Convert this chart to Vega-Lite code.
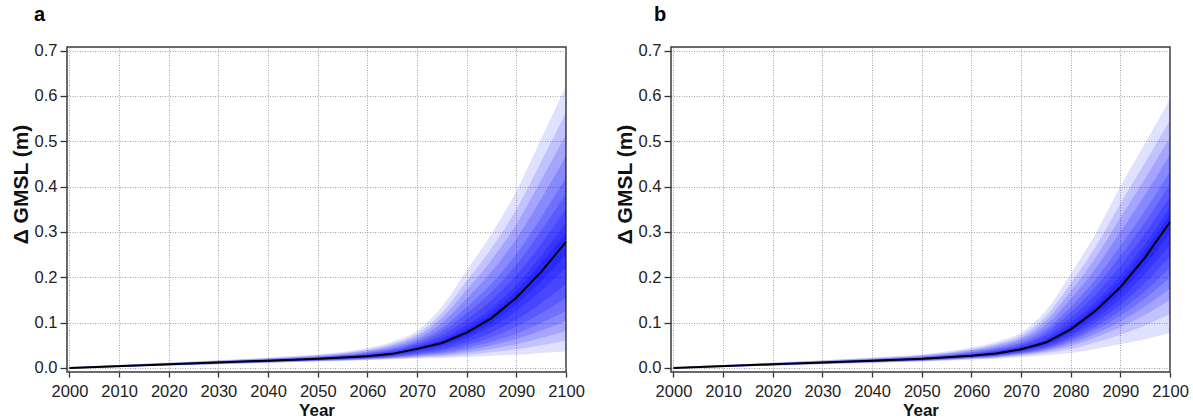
{
  "$schema": "https://vega.github.io/schema/vega-lite/v6.json",
  "background": "white",
  "padding": {"left": 9, "top": 3, "right": 5, "bottom": 0},
  "config": {
    "font": "Liberation Sans",
    "view": {"stroke": "#3a3a3a", "strokeWidth": 1.5},
    "axis": {
      "domain": false,
      "grid": true,
      "gridColor": "#8c8c8c",
      "gridDash": [1, 1.5],
      "gridWidth": 0.8,
      "labelFont": "Liberation Sans",
      "labelFontSize": 16.5,
      "labelColor": "#222222",
      "tickColor": "#333333",
      "tickWidth": 1.3,
      "titleFont": "Liberation Sans",
      "titleFontSize": 17,
      "titleFontWeight": "bold",
      "titleColor": "#111111",
      "labelFlush": false,
      "labelOverlap": false,
      "zindex": 1
    },
    "axisX": {"tickSize": 5, "labelPadding": 6, "titlePadding": 3},
    "axisY": {"tickSize": 7, "labelPadding": 3, "titlePadding": 3, "titleFontSize": 21, "titleY": 137}
  },
  "datasets": {
    "fan": [
      {"p":"a","year":2000,"band":1,"lo":-0.002,"hi":0.002},{"p":"a","year":2000,"band":2,"lo":-0.0018,"hi":0.0017},{"p":"a","year":2000,"band":3,"lo":-0.0016,"hi":0.0014},{"p":"a","year":2000,"band":4,"lo":-0.0014,"hi":0.0011},{"p":"a","year":2000,"band":5,"lo":-0.0013,"hi":0.0008},{"p":"a","year":2000,"band":6,"lo":-0.001,"hi":0.0006},{"p":"a","year":2000,"band":7,"lo":-0.0008,"hi":0.0004},{"p":"a","year":2000,"band":8,"lo":-0.0005,"hi":0.0002},{"p":"a","year":2000,"band":9,"lo":-0.0002,"hi":0.0001},
      {"p":"a","year":2020,"band":1,"lo":0.005,"hi":0.012},{"p":"a","year":2020,"band":2,"lo":0.0053,"hi":0.0113},{"p":"a","year":2020,"band":3,"lo":0.0055,"hi":0.0108},{"p":"a","year":2020,"band":4,"lo":0.0058,"hi":0.0102},{"p":"a","year":2020,"band":5,"lo":0.0061,"hi":0.0096},{"p":"a","year":2020,"band":6,"lo":0.0065,"hi":0.0092},{"p":"a","year":2020,"band":7,"lo":0.0068,"hi":0.0088},{"p":"a","year":2020,"band":8,"lo":0.0073,"hi":0.0085},{"p":"a","year":2020,"band":9,"lo":0.0077,"hi":0.0083},
      {"p":"a","year":2040,"band":1,"lo":0.011,"hi":0.023},{"p":"a","year":2040,"band":2,"lo":0.0115,"hi":0.0218},{"p":"a","year":2040,"band":3,"lo":0.0119,"hi":0.0208},{"p":"a","year":2040,"band":4,"lo":0.0124,"hi":0.0199},{"p":"a","year":2040,"band":5,"lo":0.0128,"hi":0.0189},{"p":"a","year":2040,"band":6,"lo":0.0135,"hi":0.0182},{"p":"a","year":2040,"band":7,"lo":0.0141,"hi":0.0175},{"p":"a","year":2040,"band":8,"lo":0.0148,"hi":0.0168},{"p":"a","year":2040,"band":9,"lo":0.0154,"hi":0.0165},
      {"p":"a","year":2050,"band":1,"lo":0.014,"hi":0.030},{"p":"a","year":2050,"band":2,"lo":0.0146,"hi":0.0283},{"p":"a","year":2050,"band":3,"lo":0.0151,"hi":0.0269},{"p":"a","year":2050,"band":4,"lo":0.0157,"hi":0.0255},{"p":"a","year":2050,"band":5,"lo":0.0162,"hi":0.0241},{"p":"a","year":2050,"band":6,"lo":0.0169,"hi":0.0231},{"p":"a","year":2050,"band":7,"lo":0.0177,"hi":0.0221},{"p":"a","year":2050,"band":8,"lo":0.0186,"hi":0.0212},{"p":"a","year":2050,"band":9,"lo":0.0193,"hi":0.0207},
      {"p":"a","year":2060,"band":1,"lo":0.017,"hi":0.044},{"p":"a","year":2060,"band":2,"lo":0.0179,"hi":0.0409},{"p":"a","year":2060,"band":3,"lo":0.0187,"hi":0.0384},{"p":"a","year":2060,"band":4,"lo":0.0195,"hi":0.0359},{"p":"a","year":2060,"band":5,"lo":0.0203,"hi":0.0334},{"p":"a","year":2060,"band":6,"lo":0.0214,"hi":0.0316},{"p":"a","year":2060,"band":7,"lo":0.0225,"hi":0.0298},{"p":"a","year":2060,"band":8,"lo":0.0239,"hi":0.0282},{"p":"a","year":2060,"band":9,"lo":0.025,"hi":0.0272},
      {"p":"a","year":2065,"band":1,"lo":0.019,"hi":0.058},{"p":"a","year":2065,"band":2,"lo":0.0201,"hi":0.0534},{"p":"a","year":2065,"band":3,"lo":0.0212,"hi":0.0496},{"p":"a","year":2065,"band":4,"lo":0.0223,"hi":0.0459},{"p":"a","year":2065,"band":5,"lo":0.0234,"hi":0.0421},{"p":"a","year":2065,"band":6,"lo":0.0249,"hi":0.0394},{"p":"a","year":2065,"band":7,"lo":0.0264,"hi":0.0367},{"p":"a","year":2065,"band":8,"lo":0.0282,"hi":0.0342},{"p":"a","year":2065,"band":9,"lo":0.0296,"hi":0.0328},
      {"p":"a","year":2070,"band":1,"lo":0.021,"hi":0.082},{"p":"a","year":2070,"band":2,"lo":0.023,"hi":0.0752},{"p":"a","year":2070,"band":3,"lo":0.0248,"hi":0.0696},{"p":"a","year":2070,"band":4,"lo":0.0268,"hi":0.064},{"p":"a","year":2070,"band":5,"lo":0.0288,"hi":0.0584},{"p":"a","year":2070,"band":6,"lo":0.0313,"hi":0.0544},{"p":"a","year":2070,"band":7,"lo":0.0339,"hi":0.0504},{"p":"a","year":2070,"band":8,"lo":0.0371,"hi":0.0468},{"p":"a","year":2070,"band":9,"lo":0.0396,"hi":0.0446},
      {"p":"a","year":2075,"band":1,"lo":0.022,"hi":0.135},{"p":"a","year":2075,"band":2,"lo":0.0251,"hi":0.1214},{"p":"a","year":2075,"band":3,"lo":0.028,"hi":0.1102},{"p":"a","year":2075,"band":4,"lo":0.0312,"hi":0.099},{"p":"a","year":2075,"band":5,"lo":0.0342,"hi":0.0878},{"p":"a","year":2075,"band":6,"lo":0.0382,"hi":0.0798},{"p":"a","year":2075,"band":7,"lo":0.0423,"hi":0.0718},{"p":"a","year":2075,"band":8,"lo":0.0473,"hi":0.0646},{"p":"a","year":2075,"band":9,"lo":0.0512,"hi":0.0602},
      {"p":"a","year":2080,"band":1,"lo":0.024,"hi":0.215},{"p":"a","year":2080,"band":2,"lo":0.0291,"hi":0.1917},{"p":"a","year":2080,"band":3,"lo":0.0339,"hi":0.1725},{"p":"a","year":2080,"band":4,"lo":0.039,"hi":0.1534},{"p":"a","year":2080,"band":5,"lo":0.0439,"hi":0.1342},{"p":"a","year":2080,"band":6,"lo":0.0505,"hi":0.1205},{"p":"a","year":2080,"band":7,"lo":0.0572,"hi":0.1068},{"p":"a","year":2080,"band":8,"lo":0.0655,"hi":0.0944},{"p":"a","year":2080,"band":9,"lo":0.0717,"hi":0.0869},
      {"p":"a","year":2085,"band":1,"lo":0.027,"hi":0.296},{"p":"a","year":2085,"band":2,"lo":0.0349,"hi":0.2644},{"p":"a","year":2085,"band":3,"lo":0.0422,"hi":0.2383},{"p":"a","year":2085,"band":4,"lo":0.0501,"hi":0.2123},{"p":"a","year":2085,"band":5,"lo":0.0576,"hi":0.1863},{"p":"a","year":2085,"band":6,"lo":0.0677,"hi":0.1677},{"p":"a","year":2085,"band":7,"lo":0.078,"hi":0.1491},{"p":"a","year":2085,"band":8,"lo":0.0907,"hi":0.1323},{"p":"a","year":2085,"band":9,"lo":0.1004,"hi":0.1221},
      {"p":"a","year":2090,"band":1,"lo":0.029,"hi":0.39},{"p":"a","year":2090,"band":2,"lo":0.041,"hi":0.3501},{"p":"a","year":2090,"band":3,"lo":0.0521,"hi":0.3172},{"p":"a","year":2090,"band":4,"lo":0.064,"hi":0.2843},{"p":"a","year":2090,"band":5,"lo":0.0755,"hi":0.2514},{"p":"a","year":2090,"band":6,"lo":0.0907,"hi":0.2279},{"p":"a","year":2090,"band":7,"lo":0.1064,"hi":0.2044},{"p":"a","year":2090,"band":8,"lo":0.1258,"hi":0.1832},{"p":"a","year":2090,"band":9,"lo":0.1404,"hi":0.1703},
      {"p":"a","year":2095,"band":1,"lo":0.033,"hi":0.505},{"p":"a","year":2095,"band":2,"lo":0.05,"hi":0.4552},{"p":"a","year":2095,"band":3,"lo":0.0658,"hi":0.4142},{"p":"a","year":2095,"band":4,"lo":0.0828,"hi":0.3732},{"p":"a","year":2095,"band":5,"lo":0.0991,"hi":0.3321},{"p":"a","year":2095,"band":6,"lo":0.1207,"hi":0.3028},{"p":"a","year":2095,"band":7,"lo":0.1429,"hi":0.2735},{"p":"a","year":2095,"band":8,"lo":0.1705,"hi":0.2472},{"p":"a","year":2095,"band":9,"lo":0.1912,"hi":0.231},
      {"p":"a","year":2100,"band":1,"lo":0.037,"hi":0.622},{"p":"a","year":2100,"band":2,"lo":0.06,"hi":0.563},{"p":"a","year":2100,"band":3,"lo":0.081,"hi":0.515},{"p":"a","year":2100,"band":4,"lo":0.104,"hi":0.467},{"p":"a","year":2100,"band":5,"lo":0.126,"hi":0.42},{"p":"a","year":2100,"band":6,"lo":0.155,"hi":0.385},{"p":"a","year":2100,"band":7,"lo":0.185,"hi":0.35},{"p":"a","year":2100,"band":8,"lo":0.222,"hi":0.32},{"p":"a","year":2100,"band":9,"lo":0.25,"hi":0.30},
      {"p":"b","year":2000,"band":1,"lo":-0.002,"hi":0.002},{"p":"b","year":2000,"band":2,"lo":-0.0018,"hi":0.0017},{"p":"b","year":2000,"band":3,"lo":-0.0016,"hi":0.0014},{"p":"b","year":2000,"band":4,"lo":-0.0014,"hi":0.0011},{"p":"b","year":2000,"band":5,"lo":-0.0013,"hi":0.0008},{"p":"b","year":2000,"band":6,"lo":-0.001,"hi":0.0006},{"p":"b","year":2000,"band":7,"lo":-0.0008,"hi":0.0004},{"p":"b","year":2000,"band":8,"lo":-0.0005,"hi":0.0002},{"p":"b","year":2000,"band":9,"lo":-0.0002,"hi":0.0001},
      {"p":"b","year":2020,"band":1,"lo":0.005,"hi":0.012},{"p":"b","year":2020,"band":2,"lo":0.0053,"hi":0.0113},{"p":"b","year":2020,"band":3,"lo":0.0055,"hi":0.0108},{"p":"b","year":2020,"band":4,"lo":0.0058,"hi":0.0102},{"p":"b","year":2020,"band":5,"lo":0.0061,"hi":0.0096},{"p":"b","year":2020,"band":6,"lo":0.0065,"hi":0.0092},{"p":"b","year":2020,"band":7,"lo":0.0068,"hi":0.0088},{"p":"b","year":2020,"band":8,"lo":0.0073,"hi":0.0085},{"p":"b","year":2020,"band":9,"lo":0.0077,"hi":0.0083},
      {"p":"b","year":2040,"band":1,"lo":0.011,"hi":0.023},{"p":"b","year":2040,"band":2,"lo":0.0115,"hi":0.0218},{"p":"b","year":2040,"band":3,"lo":0.0119,"hi":0.0208},{"p":"b","year":2040,"band":4,"lo":0.0124,"hi":0.0199},{"p":"b","year":2040,"band":5,"lo":0.0128,"hi":0.0189},{"p":"b","year":2040,"band":6,"lo":0.0135,"hi":0.0182},{"p":"b","year":2040,"band":7,"lo":0.0141,"hi":0.0175},{"p":"b","year":2040,"band":8,"lo":0.0148,"hi":0.0168},{"p":"b","year":2040,"band":9,"lo":0.0154,"hi":0.0165},
      {"p":"b","year":2050,"band":1,"lo":0.014,"hi":0.030},{"p":"b","year":2050,"band":2,"lo":0.0146,"hi":0.0283},{"p":"b","year":2050,"band":3,"lo":0.0151,"hi":0.0269},{"p":"b","year":2050,"band":4,"lo":0.0157,"hi":0.0255},{"p":"b","year":2050,"band":5,"lo":0.0162,"hi":0.0241},{"p":"b","year":2050,"band":6,"lo":0.0169,"hi":0.0231},{"p":"b","year":2050,"band":7,"lo":0.0177,"hi":0.0221},{"p":"b","year":2050,"band":8,"lo":0.0186,"hi":0.0212},{"p":"b","year":2050,"band":9,"lo":0.0193,"hi":0.0207},
      {"p":"b","year":2060,"band":1,"lo":0.018,"hi":0.045},{"p":"b","year":2060,"band":2,"lo":0.0195,"hi":0.0419},{"p":"b","year":2060,"band":3,"lo":0.0207,"hi":0.0394},{"p":"b","year":2060,"band":4,"lo":0.0216,"hi":0.0369},{"p":"b","year":2060,"band":5,"lo":0.0225,"hi":0.0344},{"p":"b","year":2060,"band":6,"lo":0.0233,"hi":0.0326},{"p":"b","year":2060,"band":7,"lo":0.0242,"hi":0.0308},{"p":"b","year":2060,"band":8,"lo":0.0252,"hi":0.0292},{"p":"b","year":2060,"band":9,"lo":0.0261,"hi":0.0282},
      {"p":"b","year":2065,"band":1,"lo":0.020,"hi":0.058},{"p":"b","year":2065,"band":2,"lo":0.022,"hi":0.0536},{"p":"b","year":2065,"band":3,"lo":0.0236,"hi":0.0499},{"p":"b","year":2065,"band":4,"lo":0.0248,"hi":0.0463},{"p":"b","year":2065,"band":5,"lo":0.026,"hi":0.0427},{"p":"b","year":2065,"band":6,"lo":0.0271,"hi":0.0401},{"p":"b","year":2065,"band":7,"lo":0.0283,"hi":0.0375},{"p":"b","year":2065,"band":8,"lo":0.0296,"hi":0.0351},{"p":"b","year":2065,"band":9,"lo":0.0308,"hi":0.0337},
      {"p":"b","year":2070,"band":1,"lo":0.024,"hi":0.078},{"p":"b","year":2070,"band":2,"lo":0.0269,"hi":0.0717},{"p":"b","year":2070,"band":3,"lo":0.0291,"hi":0.0665},{"p":"b","year":2070,"band":4,"lo":0.0308,"hi":0.0614},{"p":"b","year":2070,"band":5,"lo":0.0325,"hi":0.0562},{"p":"b","year":2070,"band":6,"lo":0.034,"hi":0.0525},{"p":"b","year":2070,"band":7,"lo":0.0357,"hi":0.0488},{"p":"b","year":2070,"band":8,"lo":0.0376,"hi":0.0454},{"p":"b","year":2070,"band":9,"lo":0.0393,"hi":0.0434},
      {"p":"b","year":2075,"band":1,"lo":0.028,"hi":0.126},{"p":"b","year":2075,"band":2,"lo":0.0328,"hi":0.1141},{"p":"b","year":2075,"band":3,"lo":0.0364,"hi":0.1043},{"p":"b","year":2075,"band":4,"lo":0.0392,"hi":0.0945},{"p":"b","year":2075,"band":5,"lo":0.042,"hi":0.0847},{"p":"b","year":2075,"band":6,"lo":0.0445,"hi":0.0777},{"p":"b","year":2075,"band":7,"lo":0.0473,"hi":0.0707},{"p":"b","year":2075,"band":8,"lo":0.0504,"hi":0.0644},{"p":"b","year":2075,"band":9,"lo":0.0532,"hi":0.0606},
      {"p":"b","year":2080,"band":1,"lo":0.033,"hi":0.207},{"p":"b","year":2080,"band":2,"lo":0.0418,"hi":0.1863},{"p":"b","year":2080,"band":3,"lo":0.0486,"hi":0.1692},{"p":"b","year":2080,"band":4,"lo":0.0538,"hi":0.1521},{"p":"b","year":2080,"band":5,"lo":0.059,"hi":0.135},{"p":"b","year":2080,"band":6,"lo":0.0637,"hi":0.1228},{"p":"b","year":2080,"band":7,"lo":0.0689,"hi":0.1106},{"p":"b","year":2080,"band":8,"lo":0.0746,"hi":0.0996},{"p":"b","year":2080,"band":9,"lo":0.0798,"hi":0.0929},
      {"p":"b","year":2085,"band":1,"lo":0.042,"hi":0.296},{"p":"b","year":2085,"band":2,"lo":0.0563,"hi":0.2671},{"p":"b","year":2085,"band":3,"lo":0.0672,"hi":0.2433},{"p":"b","year":2085,"band":4,"lo":0.0756,"hi":0.2195},{"p":"b","year":2085,"band":5,"lo":0.084,"hi":0.1957},{"p":"b","year":2085,"band":6,"lo":0.0916,"hi":0.1787},{"p":"b","year":2085,"band":7,"lo":0.1,"hi":0.1617},{"p":"b","year":2085,"band":8,"lo":0.1092,"hi":0.1464},{"p":"b","year":2085,"band":9,"lo":0.1176,"hi":0.1371},
      {"p":"b","year":2090,"band":1,"lo":0.052,"hi":0.40},{"p":"b","year":2090,"band":2,"lo":0.0734,"hi":0.3623},{"p":"b","year":2090,"band":3,"lo":0.0898,"hi":0.3312},{"p":"b","year":2090,"band":4,"lo":0.1024,"hi":0.3001},{"p":"b","year":2090,"band":5,"lo":0.115,"hi":0.269},{"p":"b","year":2090,"band":6,"lo":0.1263,"hi":0.2468},{"p":"b","year":2090,"band":7,"lo":0.1389,"hi":0.2246},{"p":"b","year":2090,"band":8,"lo":0.1528,"hi":0.2046},{"p":"b","year":2090,"band":9,"lo":0.1654,"hi":0.1924},
      {"p":"b","year":2095,"band":1,"lo":0.063,"hi":0.496},{"p":"b","year":2095,"band":2,"lo":0.0938,"hi":0.4532},{"p":"b","year":2095,"band":3,"lo":0.1173,"hi":0.4179},{"p":"b","year":2095,"band":4,"lo":0.1354,"hi":0.3826},{"p":"b","year":2095,"band":5,"lo":0.1535,"hi":0.3473},{"p":"b","year":2095,"band":6,"lo":0.1698,"hi":0.3221},{"p":"b","year":2095,"band":7,"lo":0.1879,"hi":0.2969},{"p":"b","year":2095,"band":8,"lo":0.2078,"hi":0.2742},{"p":"b","year":2095,"band":9,"lo":0.2259,"hi":0.2604},
      {"p":"b","year":2100,"band":1,"lo":0.077,"hi":0.593},{"p":"b","year":2100,"band":2,"lo":0.1187,"hi":0.5469},{"p":"b","year":2100,"band":3,"lo":0.1505,"hi":0.509},{"p":"b","year":2100,"band":4,"lo":0.175,"hi":0.471},{"p":"b","year":2100,"band":5,"lo":0.1995,"hi":0.4331},{"p":"b","year":2100,"band":6,"lo":0.2215,"hi":0.406},{"p":"b","year":2100,"band":7,"lo":0.246,"hi":0.3789},{"p":"b","year":2100,"band":8,"lo":0.273,"hi":0.3545},{"p":"b","year":2100,"band":9,"lo":0.2975,"hi":0.3396}
    ],
    "med": [
      {"p":"a","year":2000,"m":0.0},{"p":"a","year":2020,"m":0.008},{"p":"a","year":2040,"m":0.016},{"p":"a","year":2050,"m":0.020},{"p":"a","year":2060,"m":0.026},{"p":"a","year":2065,"m":0.031},{"p":"a","year":2070,"m":0.042},{"p":"a","year":2075,"m":0.055},{"p":"a","year":2080,"m":0.078},{"p":"a","year":2085,"m":0.110},{"p":"a","year":2090,"m":0.155},{"p":"a","year":2095,"m":0.212},{"p":"a","year":2100,"m":0.278},
      {"p":"b","year":2000,"m":0.0},{"p":"b","year":2020,"m":0.008},{"p":"b","year":2040,"m":0.016},{"p":"b","year":2050,"m":0.020},{"p":"b","year":2060,"m":0.027},{"p":"b","year":2065,"m":0.032},{"p":"b","year":2070,"m":0.041},{"p":"b","year":2075,"m":0.056},{"p":"b","year":2080,"m":0.085},{"p":"b","year":2085,"m":0.126},{"p":"b","year":2090,"m":0.178},{"p":"b","year":2095,"m":0.244},{"p":"b","year":2100,"m":0.322}
    ]
  },
  "bounds": "flush",
  "spacing": 105,
  "hconcat": [
    {
      "width": 499,
      "height": 325,
      "title": {"text": "a", "anchor": "start", "frame": "group", "dx": -33, "fontSize": 20, "fontWeight": "bold", "font": "Liberation Sans", "color": "#000000", "offset": 18},
      "layer": [
        {
          "data": {"name": "fan"},
          "transform": [{"filter": {"field": "p", "equal": "a"}}],
          "mark": {"type": "area", "color": "#0000ff", "interpolate": "monotone"},
          "encoding": {
            "x": {"field": "year", "type": "quantitative", "title": "Year", "scale": {"domain": [1999.5, 2100], "nice": false, "zero": false}, "axis": {"values": [2000, 2010, 2020, 2030, 2040, 2050, 2060, 2070, 2080, 2090, 2100], "format": "d"}},
            "y": {"field": "hi", "type": "quantitative", "title": "Δ GMSL (m)", "scale": {"domain": [-0.009, 0.708], "nice": false, "zero": false}, "axis": {"values": [0, 0.1, 0.2, 0.3, 0.4, 0.5, 0.6, 0.7], "format": ".1f"}},
            "y2": {"field": "lo"},
            "detail": {"field": "band", "type": "nominal"},
            "opacity": {"field": "band", "type": "ordinal", "scale": {"domain": [1, 2, 3, 4, 5, 6, 7, 8, 9], "range": [0.12, 0.24, 0.28, 0.28, 0.28, 0.28, 0.28, 0.28, 0.28]}, "legend": null}
          }
        },
        {
          "data": {"name": "med"},
          "transform": [{"filter": {"field": "p", "equal": "a"}}],
          "mark": {"type": "line", "color": "#000000", "strokeWidth": 2},
          "encoding": {
            "x": {"field": "year", "type": "quantitative", "title": "Year"},
            "y": {"field": "m", "type": "quantitative", "title": "Δ GMSL (m)"}
          }
        }
      ]
    },
    {
      "width": 499,
      "height": 325,
      "title": {"text": "b", "anchor": "start", "frame": "group", "dx": -17, "fontSize": 20, "fontWeight": "bold", "font": "Liberation Sans", "color": "#000000", "offset": 18},
      "layer": [
        {
          "data": {"name": "fan"},
          "transform": [{"filter": {"field": "p", "equal": "b"}}],
          "mark": {"type": "area", "color": "#0000ff", "interpolate": "monotone"},
          "encoding": {
            "x": {"field": "year", "type": "quantitative", "title": "Year", "scale": {"domain": [1999.5, 2100], "nice": false, "zero": false}, "axis": {"values": [2000, 2010, 2020, 2030, 2040, 2050, 2060, 2070, 2080, 2090, 2100], "format": "d"}},
            "y": {"field": "hi", "type": "quantitative", "title": "Δ GMSL (m)", "scale": {"domain": [-0.009, 0.708], "nice": false, "zero": false}, "axis": {"values": [0, 0.1, 0.2, 0.3, 0.4, 0.5, 0.6, 0.7], "format": ".1f"}},
            "y2": {"field": "lo"},
            "detail": {"field": "band", "type": "nominal"},
            "opacity": {"field": "band", "type": "ordinal", "scale": {"domain": [1, 2, 3, 4, 5, 6, 7, 8, 9], "range": [0.12, 0.24, 0.28, 0.28, 0.28, 0.28, 0.28, 0.28, 0.28]}, "legend": null}
          }
        },
        {
          "data": {"name": "med"},
          "transform": [{"filter": {"field": "p", "equal": "b"}}],
          "mark": {"type": "line", "color": "#000000", "strokeWidth": 2},
          "encoding": {
            "x": {"field": "year", "type": "quantitative", "title": "Year"},
            "y": {"field": "m", "type": "quantitative", "title": "Δ GMSL (m)"}
          }
        }
      ]
    }
  ]
}
